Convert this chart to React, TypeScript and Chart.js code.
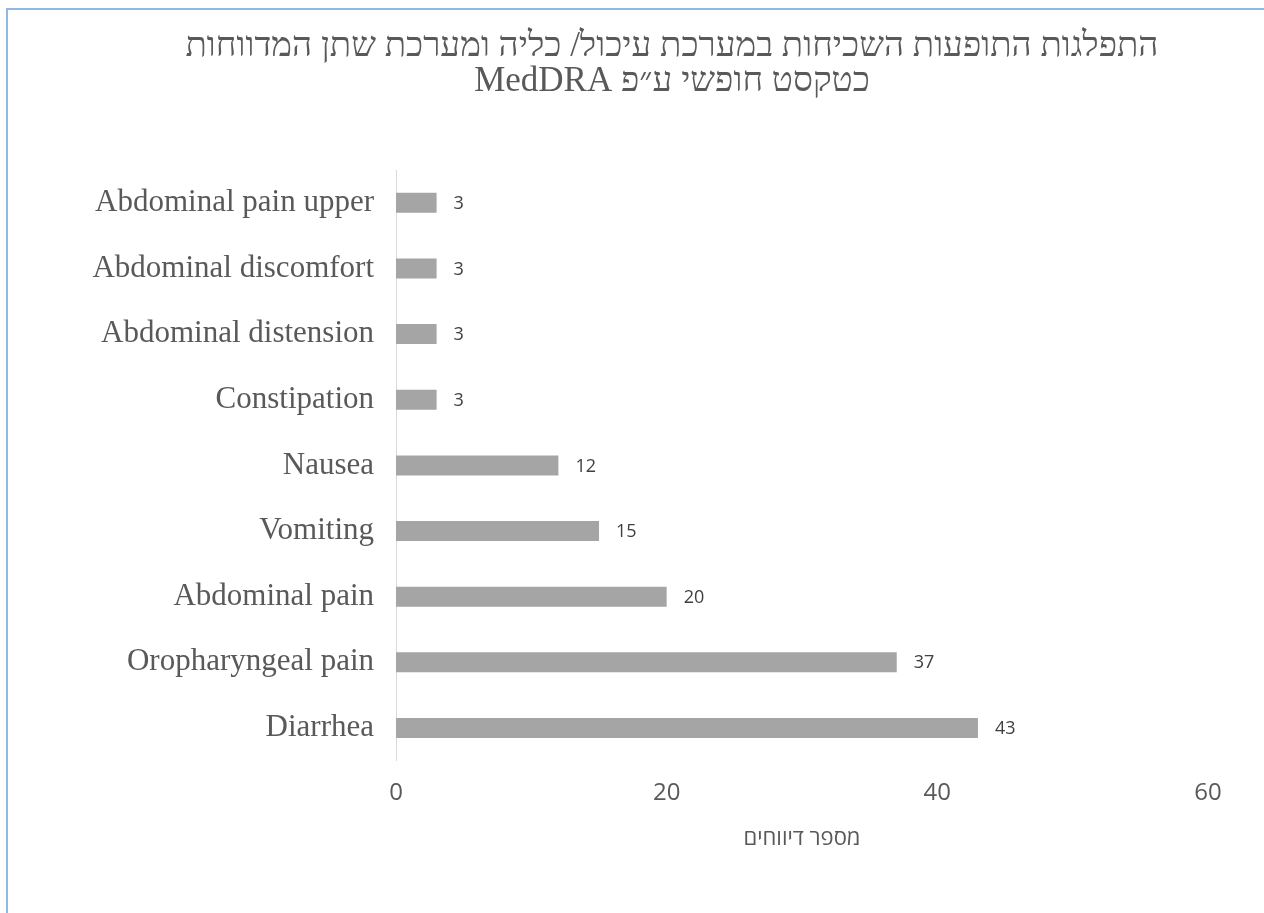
import React, { useEffect, useRef } from "react";
import { Chart, registerables } from "chart.js";

Chart.register(...registerables);

const categories: string[] = [
  "Abdominal pain upper",
  "Abdominal discomfort",
  "Abdominal distension",
  "Constipation",
  "Nausea",
  "Vomiting",
  "Abdominal pain",
  "Oropharyngeal pain",
  "Diarrhea",
];

const reportCounts: number[] = [3, 3, 3, 3, 12, 15, 20, 37, 43];

const titleLines: string[] = [
  "התפלגות התופעות השכיחות במערכת עיכול/ כליה ומערכת שתן המדווחות",
  "\u202Bכטקסט חופשי ע״פ MedDRA\u202C",
];

const xAxisTitle = "מספר דיווחים";
const xMin = 0;
const xMax = 60;
const xStep = 20;

const valueLabelPlugin = {
  id: "valueLabels",
  afterDatasetsDraw(chart: any) {
    const { ctx } = chart;
    const meta = chart.getDatasetMeta(0);
    const data = chart.data.datasets[0].data as number[];
    ctx.save();
    ctx.font = "18px 'Open Sans', sans-serif";
    ctx.fillStyle = "#404040";
    ctx.textAlign = "left";
    ctx.textBaseline = "middle";
    meta.data.forEach((bar: any, i: number) => {
      ctx.fillText(String(data[i]), bar.x + 17, bar.y + 1);
    });
    ctx.restore();
  },
};

const boxTitlePlugin = {
  id: "boxTitle",
  afterDraw(chart: any) {
    const { ctx, width } = chart;
    ctx.save();
    ctx.font = "35px 'Liberation Serif', 'DejaVu Serif', serif";
    ctx.fillStyle = "#595959";
    ctx.textAlign = "center";
    ctx.textBaseline = "middle";
    titleLines.forEach((line, i) => {
      ctx.fillText(line, width / 2, 37 + i * 35);
    });
    ctx.restore();
  },
};

export default function App() {
  const canvasRef = useRef<HTMLCanvasElement | null>(null);

  useEffect(() => {
    if (!canvasRef.current) return;
    const chart = new Chart(canvasRef.current, {
      type: "bar",
      data: {
        labels: categories,
        datasets: [
          {
            data: reportCounts,
            backgroundColor: "#a5a5a5",
            borderWidth: 0,
            barPercentage: 0.305,
            categoryPercentage: 1,
          },
        ],
      },
      options: {
        indexAxis: "y",
        responsive: false,
        animation: false,
        layout: { padding: { left: 0, right: 128, top: 160, bottom: 61 } },
        plugins: {
          legend: { display: false },
          tooltip: { enabled: false },
          title: { display: false },
        },
        scales: {
          x: {
            min: xMin,
            max: xMax,
            ticks: {
              stepSize: xStep,
              color: "#595959",
              font: { family: "'Open Sans', sans-serif", size: 24 },
              padding: 18,
            },
            grid: { display: false, drawTicks: false },
            border: { display: false },
            title: {
              display: true,
              text: xAxisTitle,
              color: "#595959",
              font: { family: "'Open Sans', sans-serif", size: 22 },
              padding: { top: 0, bottom: 0 },
            },
          },
          y: {
            ticks: {
              color: "#595959",
              font: { family: "'Liberation Serif', serif", size: 31 },
              padding: 22,
            },
            grid: { display: false, drawTicks: false },
            border: { display: true, color: "#d9d9d9", width: 1 },
            afterFit(scale: any) {
              scale.width = 388;
            },
          },
        },
      },
      plugins: [valueLabelPlugin, boxTitlePlugin],
    });
    return () => chart.destroy();
  }, []);

  return (
    <div
      style={{
        position: "absolute",
        left: 6,
        top: 8,
        width: 1256,
        height: 903,
        overflow: "hidden",
        borderTop: "2px solid #8fb9e3",
        borderLeft: "2px solid #8fb9e3",
        background: "#ffffff",
      }}
    >
      <canvas ref={canvasRef} width={1328} height={903} style={{ display: "block" }} />
    </div>
  );
}
